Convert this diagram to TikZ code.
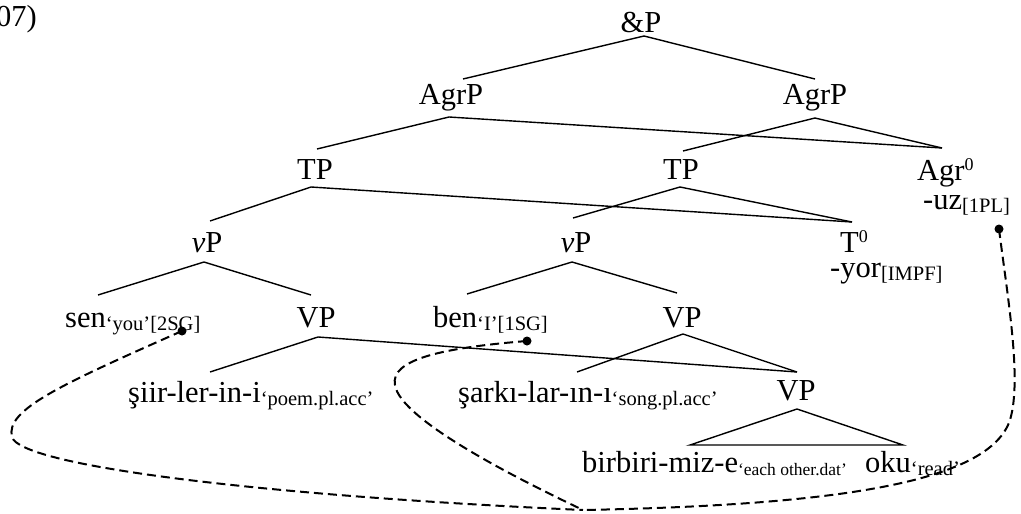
\documentclass[tikz,border=0pt]{standalone}
\usepackage{fontspec}
\setmainfont{Liberation Serif}
\newcommand{\glsub}[1]{{\fontsize{20.5}{22}\selectfont\raisebox{-3pt}{#1}}}
\newcommand{\glsubsm}[1]{{\fontsize{17.5}{19}\selectfont\raisebox{-3pt}{#1}}}
\newcommand{\supzero}{\raisebox{10pt}{\fontsize{18}{18}\selectfont 0}}
\begin{document}
\begin{tikzpicture}[x=1pt,y=-1pt,
  lbl/.style={inner sep=0pt, anchor=base, font=\fontsize{30.5}{32}\selectfont},
  lblw/.style={lbl, anchor=base west},
  branch/.style={line width=1.4pt},
  link/.style={line width=2pt, dash pattern=on 9pt off 5pt},
  dotmark/.style={fill=black}]
\useasboundingbox (0,0) rectangle (1021,514);

% labels
\node[lbl, anchor=base east] (ex) at (37,26) {07)};
\node[lbl] (andP) at (641,32) {\&P};
\node[lbl] (agrL) at (451,104) {AgrP};
\node[lbl] (agrR) at (815,104) {AgrP};
\node[lbl] (tpL) at (315,179) {TP};
\node[lbl] (tpR) at (681,179) {TP};
\node[lblw] (agr0) at (917,180) {Agr\supzero};
\node[lblw] (uz) at (923,209) {-uz\glsub{[1PL]}};
\node[lbl] (vpL) at (207,252) {\textit{v}P};
\node[lbl] (vpR) at (576,252) {\textit{v}P};
\node[lblw] (t0) at (840,252) {T\supzero};
\node[lblw] (yor) at (830,277) {-yor\glsub{[IMPF]}};
\node[lblw] (sen) at (65,327) {sen\glsub{‘you’[2SG]}};
\node[lbl] (VPL) at (316,327) {VP};
\node[lblw] (ben) at (433,327) {ben\glsub{‘I’[1SG]}};
\node[lbl] (VPR) at (682,327) {VP};
\node[lblw] (siir) at (128,402) {şiir-ler-in-i\glsub{‘poem.pl.acc’}};
\node[lblw] (sarki) at (458,402) {şarkı-lar-ın-ı\glsub{‘song.pl.acc’}};
\node[lbl] (VPlow) at (796,400) {VP};
\node[lblw] (birbiri) at (582,472) {birbiri-miz-e\glsubsm{‘each other.dat’}};
\node[lblw] (oku) at (865,472) {oku\glsub{‘read’}};

% attachment points
\coordinate (andP-b) at (644,36);
\coordinate (agrL-t) at (463,79);
\coordinate (agrR-t) at (815,79);
\coordinate (agrL-b) at (449,117);
\coordinate (agrR-b) at (815,118);
\coordinate (tpL-t) at (317,149);
\coordinate (tpR-t) at (683,151);
\coordinate (agr0-t) at (942,148);
\coordinate (tpL-b) at (311,187);
\coordinate (tpR-b) at (680,187);
\coordinate (vpL-t) at (210,221);
\coordinate (vpR-t) at (573,218);
\coordinate (t0-t) at (852,222);
\coordinate (vpL-b) at (204,262);
\coordinate (vpR-b) at (572,262);
\coordinate (sen-t) at (98,295);
\coordinate (VPL-t) at (311,295);
\coordinate (ben-t) at (467,294);
\coordinate (VPR-t) at (677,293);
\coordinate (VPL-b) at (318,337);
\coordinate (VPR-b) at (683,334);
\coordinate (siir-t) at (210,372);
\coordinate (sarki-t) at (577,372);
\coordinate (VPlow-t) at (797,372);
\coordinate (VPlow-b) at (797,409);
\coordinate (tri-l) at (690,445);
\coordinate (tri-r) at (903,445);
\coordinate (sen-dot) at (182,331);
\coordinate (ben-dot) at (527,341);
\coordinate (uz-dot) at (999,229);
\coordinate (meet) at (583,510);

% branches
\draw[branch] (agrL-t) -- (andP-b) -- (agrR-t);
\draw[branch] (tpL-t) -- (agrL-b) -- (agr0-t);
\draw[branch] (tpR-t) -- (agrR-b) -- (agr0-t);
\draw[branch] (vpL-t) -- (tpL-b) -- (t0-t);
\draw[branch] (vpR-t) -- (tpR-b) -- (t0-t);
\draw[branch] (sen-t) -- (vpL-b) -- (VPL-t);
\draw[branch] (ben-t) -- (vpR-b) -- (VPR-t);
\draw[branch] (siir-t) -- (VPL-b) -- (VPlow-t);
\draw[branch] (sarki-t) -- (VPR-b) -- (VPlow-t);
\draw[branch] (VPlow-b) -- (tri-l) -- (tri-r) -- cycle;

% dots
\fill[dotmark] (sen-dot) circle (4.5);
\fill[dotmark] (ben-dot) circle (4.5);
\fill[dotmark] (uz-dot) circle (4.5);

% dashed links
\draw[link] (sen-dot) .. controls (60,385) and (5,410) .. (12,437)
  .. controls (20,465) and (250,495) .. (meet);
\draw[link] (ben-dot) .. controls (440,348) and (390,360) .. (395,385)
  .. controls (400,420) and (520,480) .. (meet);
\draw[link] (uz-dot) .. controls (1008,300) and (1022,380) .. (1010,420)
  .. controls (990,480) and (850,505) .. (meet);
\end{tikzpicture}
\end{document}
